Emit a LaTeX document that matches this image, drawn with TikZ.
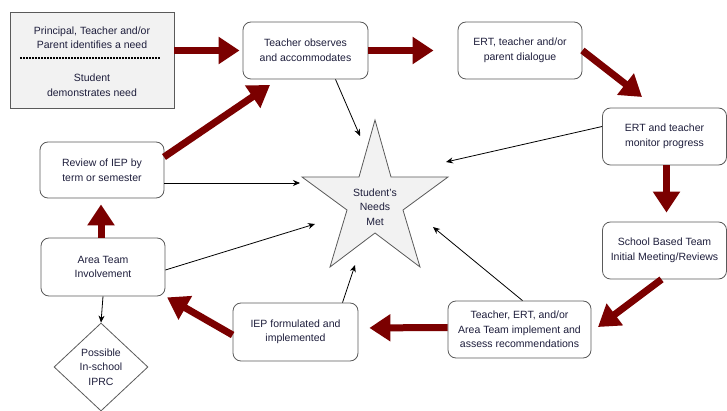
\documentclass[tikz,border=0pt]{standalone}
\usepackage{fontspec}
\setmainfont{Liberation Sans}
\usetikzlibrary{arrows.meta,shapes.geometric,calc}
\definecolor{darkred}{HTML}{7B0000}
\definecolor{boxgray}{HTML}{5A5A5A}
\definecolor{txt}{HTML}{1E1E3C}
\definecolor{fillgray}{HTML}{F2F2F2}
\tikzset{
  flowbox/.style={draw=boxgray, line width=0.8pt, rounded corners=8pt, fill=white,
    minimum width=#1, minimum height=57pt, inner sep=0pt, align=center,
    text=txt, font=\fontsize{10.5}{14.5}\selectfont},
  flowbox/.default=124pt,
  bigarrow/.style={draw=darkred, line width=7pt, -{Triangle[length=21pt,width=26pt]}},
  thinarrow/.style={draw=black, line width=0.8pt, -{Stealth[length=7pt,width=6pt]}},
  lbl/.style={text=txt, align=center, font=\fontsize{10.5}{14.5}\selectfont, inner sep=0pt}
}
\begin{document}
\begin{tikzpicture}[x=1pt,y=-1pt]
\useasboundingbox (0,0) rectangle (727,411);

% first box
\node[draw=boxgray, line width=0.8pt, fill=fillgray, minimum width=164pt, minimum height=96pt, inner sep=0pt] (box1) at (92,60) {};
\node[lbl] (box1a) at (92,38) {Principal, Teacher and/or\\Parent identifies a need};
\node[lbl] (box1b) at (92,85) {Student\\demonstrates need};
\draw[line width=1.8pt, dash pattern=on 1.6pt off 1.4pt] (20,58) -- (160,58);

% boxes
\node[flowbox=125pt] (tobs) at (305.5,50.5) {Teacher observes\\and accommodates};
\node[flowbox] (ertd) at (520,50.5) {ERT, teacher and/or\\parent dialogue};
\node[flowbox] (ertm) at (664.5,136.5) {ERT and teacher\\monitor progress};
\node[flowbox] (sbt) at (664.5,250.5) {School Based Team\\Initial Meeting/Reviews};
\node[flowbox=143pt] (tera) at (519.5,329.5) {Teacher, ERT, and/or\\Area Team implement and\\assess recommendations};
\node[flowbox=125pt, minimum height=58pt] (iep) at (295.5,332) {IEP formulated and\\implemented};
\node[flowbox, minimum height=58pt] (area) at (103,267) {Area Team\\Involvement};
\node[flowbox, minimum height=56pt] (rev) at (102,170) {Review of IEP by\\term or semester};
\node[draw=boxgray, line width=0.8pt, shape=diamond, minimum width=94pt, minimum height=88pt, inner sep=0pt, align=center, text=txt, font=\fontsize{10.5}{14.5}\selectfont] (iprc) at (101,367) {Possible\\In-school\\IPRC};

% star
\draw[draw=boxgray, line width=0.8pt, fill=fillgray]
  (375,120) -- (391,177) -- (448,177) -- (403,210) -- (420,267) -- (375,233)
  -- (330,267) -- (347,210) -- (302,177) -- (359,177) -- cycle;
\node[lbl] (star) at (375,207) {Student’s\\Needs\\Met};

% coordinates for arrow ends
\coordinate (c1) at (642,97);
\coordinate (c2) at (598,327);
\coordinate (c3) at (270,85);
\coordinate (c3s) at (164,157);
\coordinate (s1) at (360,136);
\coordinate (s2) at (446,162);
\coordinate (s3) at (300,183);
\coordinate (s4) at (315,224);
\coordinate (s5) at (355,265);
\coordinate (s6) at (433,227);

% big red arrows
\draw[bigarrow, shorten >=3pt] (box1.east |- tobs.west) -- (tobs.west);
\draw[bigarrow, shorten >=24pt] (tobs.east) -- (ertd.west);
\draw[bigarrow] (ertd.east) -- (c1);
\draw[bigarrow, shorten >=9pt] ([xshift=2pt]ertm.south) -- ([xshift=2pt]sbt.north);
\draw[bigarrow] ([xshift=-3pt]sbt.south) -- (c2);
\draw[bigarrow, shorten >=11pt] ([yshift=2pt]tera.west) -- ([yshift=4pt]iep.east);
\draw[bigarrow, shorten >=2pt] ([yshift=-3pt]iep.west) -- (area.south east);
\draw[bigarrow, shorten >=6pt] ([xshift=-2pt]area.north) -- ([xshift=-1pt]rev.south);
\draw[bigarrow] (c3s) -- (c3);

% thin arrows to star
\draw[thinarrow] ([xshift=30pt]tobs.south) -- (s1);
\draw[thinarrow] ([yshift=10pt]ertm.west) -- (s2);
\draw[thinarrow] (rev.east |- s3) -- (s3);
\draw[thinarrow] ([yshift=-3pt]area.east) -- (s4);
\draw[thinarrow] ([xshift=47pt]iep.north) -- (s5);
\draw[thinarrow] ([xshift=3pt]tera.north) -- (s6);
\draw[thinarrow] (area.south) -- (iprc.north);
\end{tikzpicture}
\end{document}
